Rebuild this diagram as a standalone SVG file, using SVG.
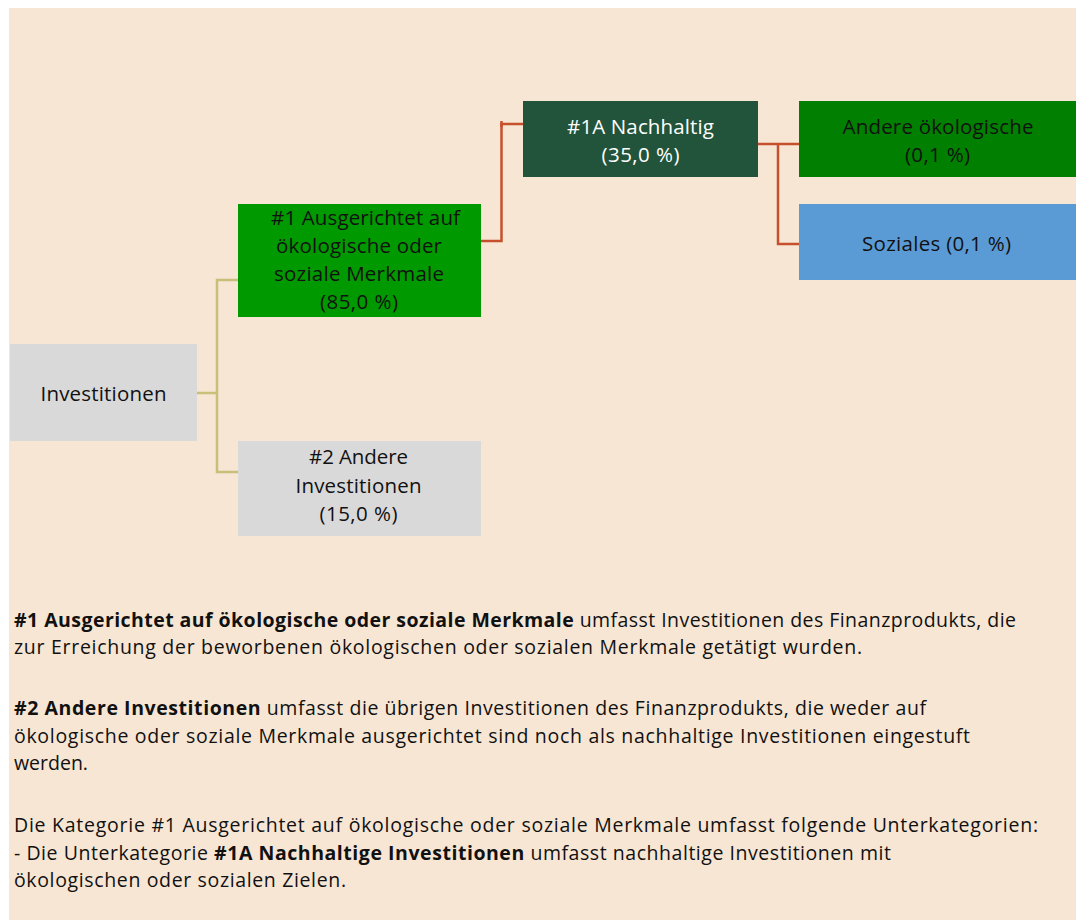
<svg xmlns="http://www.w3.org/2000/svg" width="1079" height="920" viewBox="0 0 1079 920">
<style>
text{font-family:"Open Sans","Noto Sans","Liberation Sans",sans-serif;fill:#111}
.n{font-size:20.5px;text-anchor:middle}
.w{fill:#fff}
.b{font-size:19.5px}
.bold{font-weight:bold}
.c1{fill:none;stroke:#c8bf78;stroke-width:2.5}
.c2{fill:none;stroke:#c6502c;stroke-width:2.5}
</style>
<rect x="0" y="0" width="1079" height="920" fill="#fff"/>
<rect x="9" y="8" width="1067" height="912" fill="#f7e6d4"/>
<g id="connectors">
<polyline class="c1" points="197,393 217,393"/>
<polyline class="c1" points="238,280 217,280 217,472 238,472"/>
<polyline class="c2" points="481,241 501.5,241 501.5,124 523,124"/>
<line class="c2" x1="501.5" y1="121" x2="501.5" y2="127"/>
<polyline class="c2" points="758,144 799,144"/>
<polyline class="c2" points="778,144 778,244 799,244"/>
</g>
<g id="n0">
<rect x="10" y="344" width="187" height="97" fill="#d9d9d9"/>
<text class="n" x="103.5" y="401" textLength="126">Investitionen</text>
</g>
<g id="n1">
<rect x="238" y="204" width="243" height="113" fill="#009900"/>
<text class="n" x="365.5" y="225" textLength="189">#1 Ausgerichtet auf</text>
<text class="n" x="359" y="253" textLength="166">ökologische oder</text>
<text class="n" x="359" y="281" textLength="170">soziale Merkmale</text>
<text class="n" x="359" y="309" textLength="78">(85,0 %)</text>
</g>
<g id="n2">
<rect x="238" y="441" width="243" height="95" fill="#d9d9d9"/>
<text class="n" x="358.5" y="464" textLength="99">#2 Andere</text>
<text class="n" x="358.5" y="493" textLength="126">Investitionen</text>
<text class="n" x="358.5" y="521" textLength="78">(15,0 %)</text>
</g>
<g id="n1a">
<rect x="523" y="101" width="235" height="76" fill="#22543b"/>
<text class="n w" x="640.5" y="134" textLength="147">#1A Nachhaltig</text>
<text class="n w" x="640.5" y="162" textLength="78">(35,0 %)</text>
</g>
<g id="n3">
<rect x="799" y="101" width="277" height="76" fill="#007f00"/>
<text class="n" x="938" y="134" textLength="191">Andere ökologische</text>
<text class="n" x="937.5" y="162" textLength="65">(0,1 %)</text>
</g>
<g id="n4">
<rect x="799" y="204" width="277" height="76" fill="#5b9bd5"/>
<text class="n" x="936.5" y="251" textLength="149">Soziales (0,1 %)</text>
</g>
<g id="legend">
<text class="b" x="14" y="627" textLength="1002"><tspan class="bold">#1 Ausgerichtet auf ökologische oder soziale Merkmale</tspan> umfasst Investitionen des Finanzprodukts, die</text>
<text class="b" x="14" y="654" textLength="848">zur Erreichung der beworbenen ökologischen oder sozialen Merkmale getätigt wurden.</text>
<text class="b" x="14" y="715" textLength="912"><tspan class="bold">#2 Andere Investitionen</tspan> umfasst die übrigen Investitionen des Finanzprodukts, die weder auf</text>
<text class="b" x="14" y="742.5" textLength="956">ökologische oder soziale Merkmale ausgerichtet sind noch als nachhaltige Investitionen eingestuft</text>
<text class="b" x="14" y="770">werden.</text>
<text class="b" x="14" y="832" textLength="1024">Die Kategorie #1 Ausgerichtet auf ökologische oder soziale Merkmale umfasst folgende Unterkategorien:</text>
<text class="b" x="14" y="859.5" textLength="877">- Die Unterkategorie <tspan class="bold">#1A Nachhaltige Investitionen</tspan> umfasst nachhaltige Investitionen mit</text>
<text class="b" x="14" y="887" textLength="332">ökologischen oder sozialen Zielen.</text>
</g>
</svg>
